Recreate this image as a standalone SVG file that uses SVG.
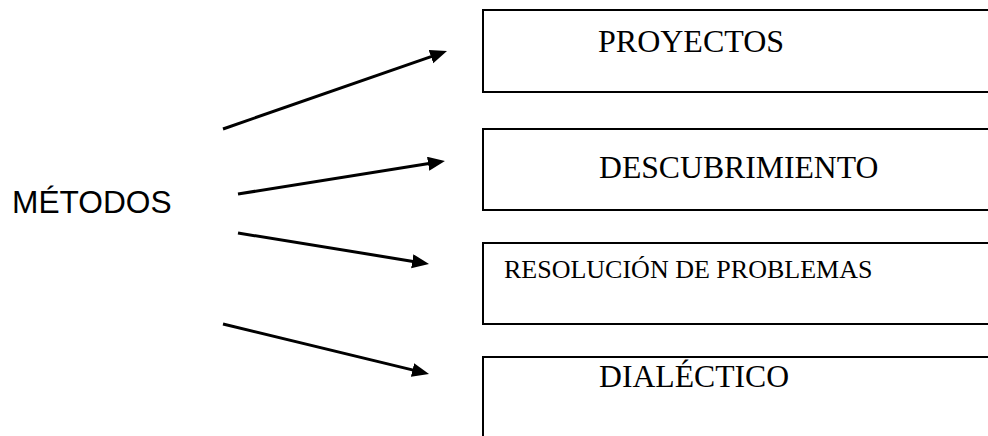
<svg xmlns="http://www.w3.org/2000/svg" width="988" height="436" viewBox="0 0 988 436">
  <style>
    .box { fill: #ffffff; stroke: #000000; stroke-width: 2; }
    .serif { font-family: "Liberation Serif", "Times New Roman", serif; fill: #000000; }
    .sans { font-family: "Liberation Sans", Arial, sans-serif; fill: #000000; }
    .conn { stroke: #000000; stroke-width: 3; fill: none; marker-end: url(#head); }
  </style>
  <defs>
    <marker id="head" markerUnits="userSpaceOnUse" markerWidth="19" markerHeight="15" refX="4" refY="7" orient="auto">
      <path d="M0,0 L17,7 L0,14 Z" fill="#000000"/>
    </marker>
  </defs>
  <rect width="988" height="436" fill="#ffffff"/>

  <g id="metodos">
    <text class="sans" x="12" y="213" font-size="31.7">MÉTODOS</text>
  </g>

  <g id="proyectos">
    <rect class="box" x="483" y="10" width="520" height="82"/>
    <text class="serif" x="598" y="52" font-size="32">PROYECTOS</text>
  </g>

  <g id="descubrimiento">
    <rect class="box" x="483" y="129" width="520" height="81"/>
    <text class="serif" x="599" y="178" font-size="31.7">DESCUBRIMIENTO</text>
  </g>

  <g id="resolucion">
    <rect class="box" x="483" y="243" width="520" height="81"/>
    <text class="serif" x="504" y="278" font-size="26">RESOLUCIÓN DE PROBLEMAS</text>
  </g>

  <g id="dialectico">
    <rect class="box" x="483" y="357" width="520" height="100"/>
    <text class="serif" x="599" y="387" font-size="31.7">DIALÉCTICO</text>
  </g>

  <g id="connectors">
    <line class="conn" x1="223" y1="129" x2="434.7" y2="55.3"/>
    <line class="conn" x1="238" y1="194" x2="432.1" y2="163.1"/>
    <line class="conn" x1="238" y1="233" x2="416.2" y2="261.9"/>
    <line class="conn" x1="223" y1="324" x2="416.4" y2="370.9"/>
  </g>
</svg>
